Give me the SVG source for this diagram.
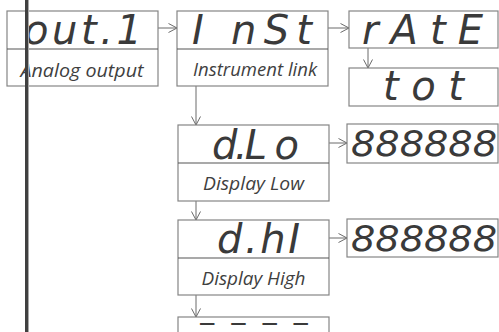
<svg xmlns="http://www.w3.org/2000/svg" width="499" height="332" viewBox="0 0 499 332">
<defs>
<style>
.box{fill:#fff;stroke:#858585;stroke-width:1.2}
.div{stroke:#555;stroke-width:1.2}
.seg{font-family:"DejaVu Sans","Liberation Sans",sans-serif;font-weight:200;font-style:italic;fill:#3a3a3a}
.lbl{font-family:"Open Sans","Noto Sans",sans-serif;font-style:italic;font-size:19px;fill:#3f3f3f;text-anchor:middle}
.con{stroke:#6a6a6a;stroke-width:1;fill:none;marker-end:url(#chev)}
</style>
<marker id="chev" viewBox="0 0 10 10" refX="9.5" refY="5" markerWidth="10" markerHeight="10" markerUnits="userSpaceOnUse" orient="auto">
<path d="M1,0.5 L9.5,5 L1,9.5" fill="none" stroke="#6a6a6a" stroke-width="1"/>
</marker>
</defs>
<rect width="499" height="332" fill="#fff"/>

<g id="connectors">
<line class="con" x1="158" y1="28" x2="177" y2="28"/>
<line class="con" x1="328" y1="28" x2="349" y2="28"/>
<line class="con" x1="368" y1="48" x2="368" y2="68"/>
<line class="con" x1="196" y1="86" x2="196" y2="125"/>
<line class="con" x1="329" y1="143" x2="347" y2="143"/>
<line class="con" x1="196" y1="201" x2="196" y2="220"/>
<line class="con" x1="329" y1="238" x2="347" y2="238"/>
<line class="con" x1="196" y1="295" x2="196" y2="317"/>
</g>

<g id="out1">
<rect class="box" x="7" y="11" width="151" height="75"/>
<line class="div" x1="7" y1="49" x2="158" y2="49"/>
<text class="seg" x="24" y="44" font-size="40" textLength="118" lengthAdjust="spacing">out.1</text>
<text class="lbl" x="82" y="77" textLength="123" lengthAdjust="spacingAndGlyphs">Analog output</text>
</g>

<g id="inst">
<rect class="box" x="177" y="11" width="151" height="75"/>
<line class="div" x1="177" y1="49" x2="328" y2="49"/>
<text class="seg" x="192" y="44" font-size="40" textLength="120" lengthAdjust="spacing">I nSt</text>
<text class="lbl" x="255" y="76" textLength="124" lengthAdjust="spacingAndGlyphs">Instrument link</text>
</g>

<g id="rate">
<rect class="box" x="349" y="11" width="149" height="37"/>
<text class="seg" x="362" y="44" font-size="40" textLength="121" lengthAdjust="spacing">rAtE</text>
</g>

<g id="tot">
<rect class="box" x="349" y="68" width="149" height="38"/>
<text class="seg" x="383" y="100" font-size="40" textLength="81" lengthAdjust="spacing">tot</text>
</g>

<g id="dlo">
<rect class="box" x="178" y="125" width="151" height="76"/>
<line class="div" x1="178" y1="163" x2="329" y2="163"/>
<text class="seg" x="212" y="159" font-size="40" textLength="87" lengthAdjust="spacing">d.L o</text>
<text class="lbl" x="253.5" y="190" textLength="101" lengthAdjust="spacingAndGlyphs">Display Low</text>
</g>

<g id="dlo-val">
<rect class="box" x="347" y="124" width="151" height="39"/>
<text class="seg" x="351" y="156" font-size="35" textLength="146" lengthAdjust="spacingAndGlyphs">888888</text>
</g>

<g id="dhi">
<rect class="box" x="178" y="220" width="151" height="75"/>
<line class="div" x1="178" y1="258" x2="329" y2="258"/>
<text class="seg" x="217" y="253" font-size="40" textLength="83" lengthAdjust="spacing">d.hI</text>
<text class="lbl" x="253.5" y="285" textLength="104" lengthAdjust="spacingAndGlyphs">Display High</text>
</g>

<g id="dhi-val">
<rect class="box" x="347" y="219" width="151" height="38"/>
<text class="seg" x="351" y="251" font-size="35" textLength="146" lengthAdjust="spacingAndGlyphs">888888</text>
</g>

<g id="next">
<rect class="box" x="178" y="317" width="151" height="30"/>
<text x="198" y="328" font-family="DejaVu Sans,sans-serif" font-weight="bold" font-size="16" fill="#3a3a3a" textLength="112" lengthAdjust="spacingAndGlyphs">– – – –</text>
</g>

<g id="bar">
<rect x="25" y="0" width="3" height="332" fill="#404040"/>
<rect x="28" y="0" width="1" height="332" fill="#a8a8a8"/>
</g>
</svg>
